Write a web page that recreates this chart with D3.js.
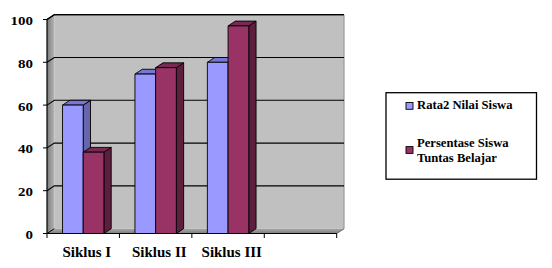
<!DOCTYPE html>
<html><head><meta charset="utf-8">
<script src="https://d3js.org/d3.v7.min.js"></script>
<style>body{margin:0;background:#fff}svg{display:block}
text{font-family:"Liberation Serif","Times New Roman",Tinos,serif;font-weight:bold;fill:#000}
</style>
</head><body>
<svg id="c" width="552" height="268"></svg>
<script>
const categories = ["Siklus I", "Siklus II", "Siklus III", ""];
const seriesNames = ["Rata2 Nilai Siswa", "Persentase Siswa Tuntas Belajar"];
const rata2 = [60, 74.5, 80];
const persentase = [38, 77.5, 97];
const yTicks = [0, 20, 40, 60, 80, 100];

const svg = d3.select("#c");
const DX = 7.3, DY = -4.8;
const x = d3.scaleBand().domain(categories).range([47, 336.7]).paddingInner(0).paddingOuter(0);
const xs = d3.scaleBand().domain([0, 1]).range([0, x.step()]).paddingInner(0).paddingOuter(0.75);
const y = d3.scaleLinear().domain([0, 100]).range([233.5, 19.5]);
const x0 = x.range()[0], x1 = x.range()[1];
const y0 = y(0), yTop = y(100);

const defs = svg.append("defs");
const lg = defs.append("linearGradient").attr("id", "lw").attr("x1", 0).attr("x2", 1).attr("y1", 0).attr("y2", 0);
lg.append("stop").attr("offset", 0).attr("stop-color", "#7c7c7c");
lg.append("stop").attr("offset", 1).attr("stop-color", "#b4b4b4");
const fg = defs.append("linearGradient").attr("id", "fl").attr("x1", 0).attr("x2", 0).attr("y1", 0).attr("y2", 1);
fg.append("stop").attr("offset", 0).attr("stop-color", "#a8a8a8");
fg.append("stop").attr("offset", 1).attr("stop-color", "#7e7e7e");

const poly = pts => "M" + pts.map(p => p.join(",")).join("L") + "Z";

svg.append("path").attr("d", poly([[x0 + DX, yTop + DY], [x1 + DX, yTop + DY], [x1 + DX, y0 + DY], [x0 + DX, y0 + DY]]))
  .attr("fill", "#c0c0c0");
svg.append("path").attr("d", poly([[x0, yTop], [x0 + DX, yTop + DY], [x0 + DX, y0 + DY], [x0, y0]]))
  .attr("fill", "url(#lw)");
svg.append("path").attr("d", poly([[x0, y0], [x0 + DX, y0 + DY], [x1 + DX, y0 + DY], [x1, y0]]))
  .attr("fill", "url(#fl)");
svg.append("line").attr("x1", x1 + DX).attr("x2", x1 + DX).attr("y1", yTop + DY).attr("y2", y0 + DY)
  .attr("stroke", "#999").attr("stroke-width", 1.2);
svg.append("line").attr("x1", x1).attr("x2", x1 + DX).attr("y1", y0).attr("y2", y0 + DY)
  .attr("stroke", "#666").attr("stroke-width", 1);

yTicks.filter(v => v > 0).forEach(v => {
  svg.append("path").attr("d", `M${x0},${y(v)}L${x0 + DX},${y(v) + DY}L${x1 + DX},${y(v) + DY}`)
    .attr("fill", "none").attr("stroke", "#000").attr("stroke-width", 1.1);
});
svg.append("line").attr("x1", x0).attr("x2", x0 + DX).attr("y1", y0).attr("y2", y0 + DY).attr("stroke", "#000");

const colors = [
  { front: "#9999ff", top: "#7777d6", side: "#6666aa" },
  { front: "#993366", top: "#7a2952", side: "#5e1f3e" }
];
const data = [rata2, persentase];
categories.forEach((c, ci) => {
  data.forEach((vals, si) => {
    if (ci >= vals.length) return;
    const v = vals[ci];
    const bx = x(c) + xs(si), bw = xs.bandwidth();
    const by = y(v), bb = y(0);
    const col = colors[si];
    const g = svg.append("g").attr("stroke", "#000").attr("stroke-width", 0.9).attr("stroke-linejoin", "round");
    g.append("path").attr("d", poly([[bx + bw, by], [bx + bw + DX, by + DY], [bx + bw + DX, bb + DY], [bx + bw, bb]])).attr("fill", col.side);
    g.append("path").attr("d", poly([[bx, by], [bx + DX, by + DY], [bx + bw + DX, by + DY], [bx + bw, by]])).attr("fill", col.top);
    g.append("rect").attr("x", bx).attr("y", by).attr("width", bw).attr("height", bb - by).attr("fill", col.front);
  });
});

svg.append("line").attr("x1", x0).attr("x2", x0).attr("y1", yTop).attr("y2", y0).attr("stroke", "#000").attr("stroke-width", 1.2);
svg.append("line").attr("x1", x0).attr("x2", x1).attr("y1", y0).attr("y2", y0).attr("stroke", "#000").attr("stroke-width", 1.2);
svg.append("path").attr("d", `M${x0},${yTop}L${x0 + DX},${yTop + DY}L${x1 + DX},${yTop + DY}`)
  .attr("fill", "none").attr("stroke", "#000").attr("stroke-width", 1.2);
yTicks.forEach(v => {
  svg.append("line").attr("x1", x0 - 4).attr("x2", x0).attr("y1", y(v)).attr("y2", y(v)).attr("stroke", "#000");
  svg.append("text").attr("transform", `translate(33,${y(v) + 5.5}) scale(1.15,1)`)
    .attr("text-anchor", "end").style("font-size", "13px").text(v);
});
const bounds = categories.map(c => x(c)).concat([x1]);
bounds.forEach(bx => {
  svg.append("line").attr("x1", bx).attr("x2", bx).attr("y1", y0).attr("y2", y0 + 4.5).attr("stroke", "#000");
});
categories.forEach(c => {
  if (!c) return;
  svg.append("text").attr("transform", `translate(${x(c) + x.bandwidth() / 2 + DX / 2},257) scale(1.07,1)`)
    .attr("text-anchor", "middle").style("font-size", "14px").text(c);
});

svg.append("rect").attr("x", 386).attr("y", 92.7).attr("width", 150.5).attr("height", 86.5)
  .attr("fill", "#fff").attr("stroke", "#000").attr("stroke-width", 1.3);
const legendItems = [
  { lines: [seriesNames[0]], my: 102.5, ty: [108.7] },
  { lines: ["Persentase Siswa", "Tuntas Belajar"], my: 146.6, ty: [146.7, 161.7] }
];
legendItems.forEach((it, i) => {
  svg.append("rect").attr("x", 406).attr("y", it.my).attr("width", 7).attr("height", 6.8)
    .attr("fill", colors[i].front).attr("stroke", "#000").attr("stroke-width", 0.9);
  it.lines.forEach((ln, li) => {
    svg.append("text").attr("transform", `translate(417,${it.ty[li]}) scale(1.1,1)`)
      .style("font-size", "11.5px").text(ln);
  });
});
</script>
</body></html>
